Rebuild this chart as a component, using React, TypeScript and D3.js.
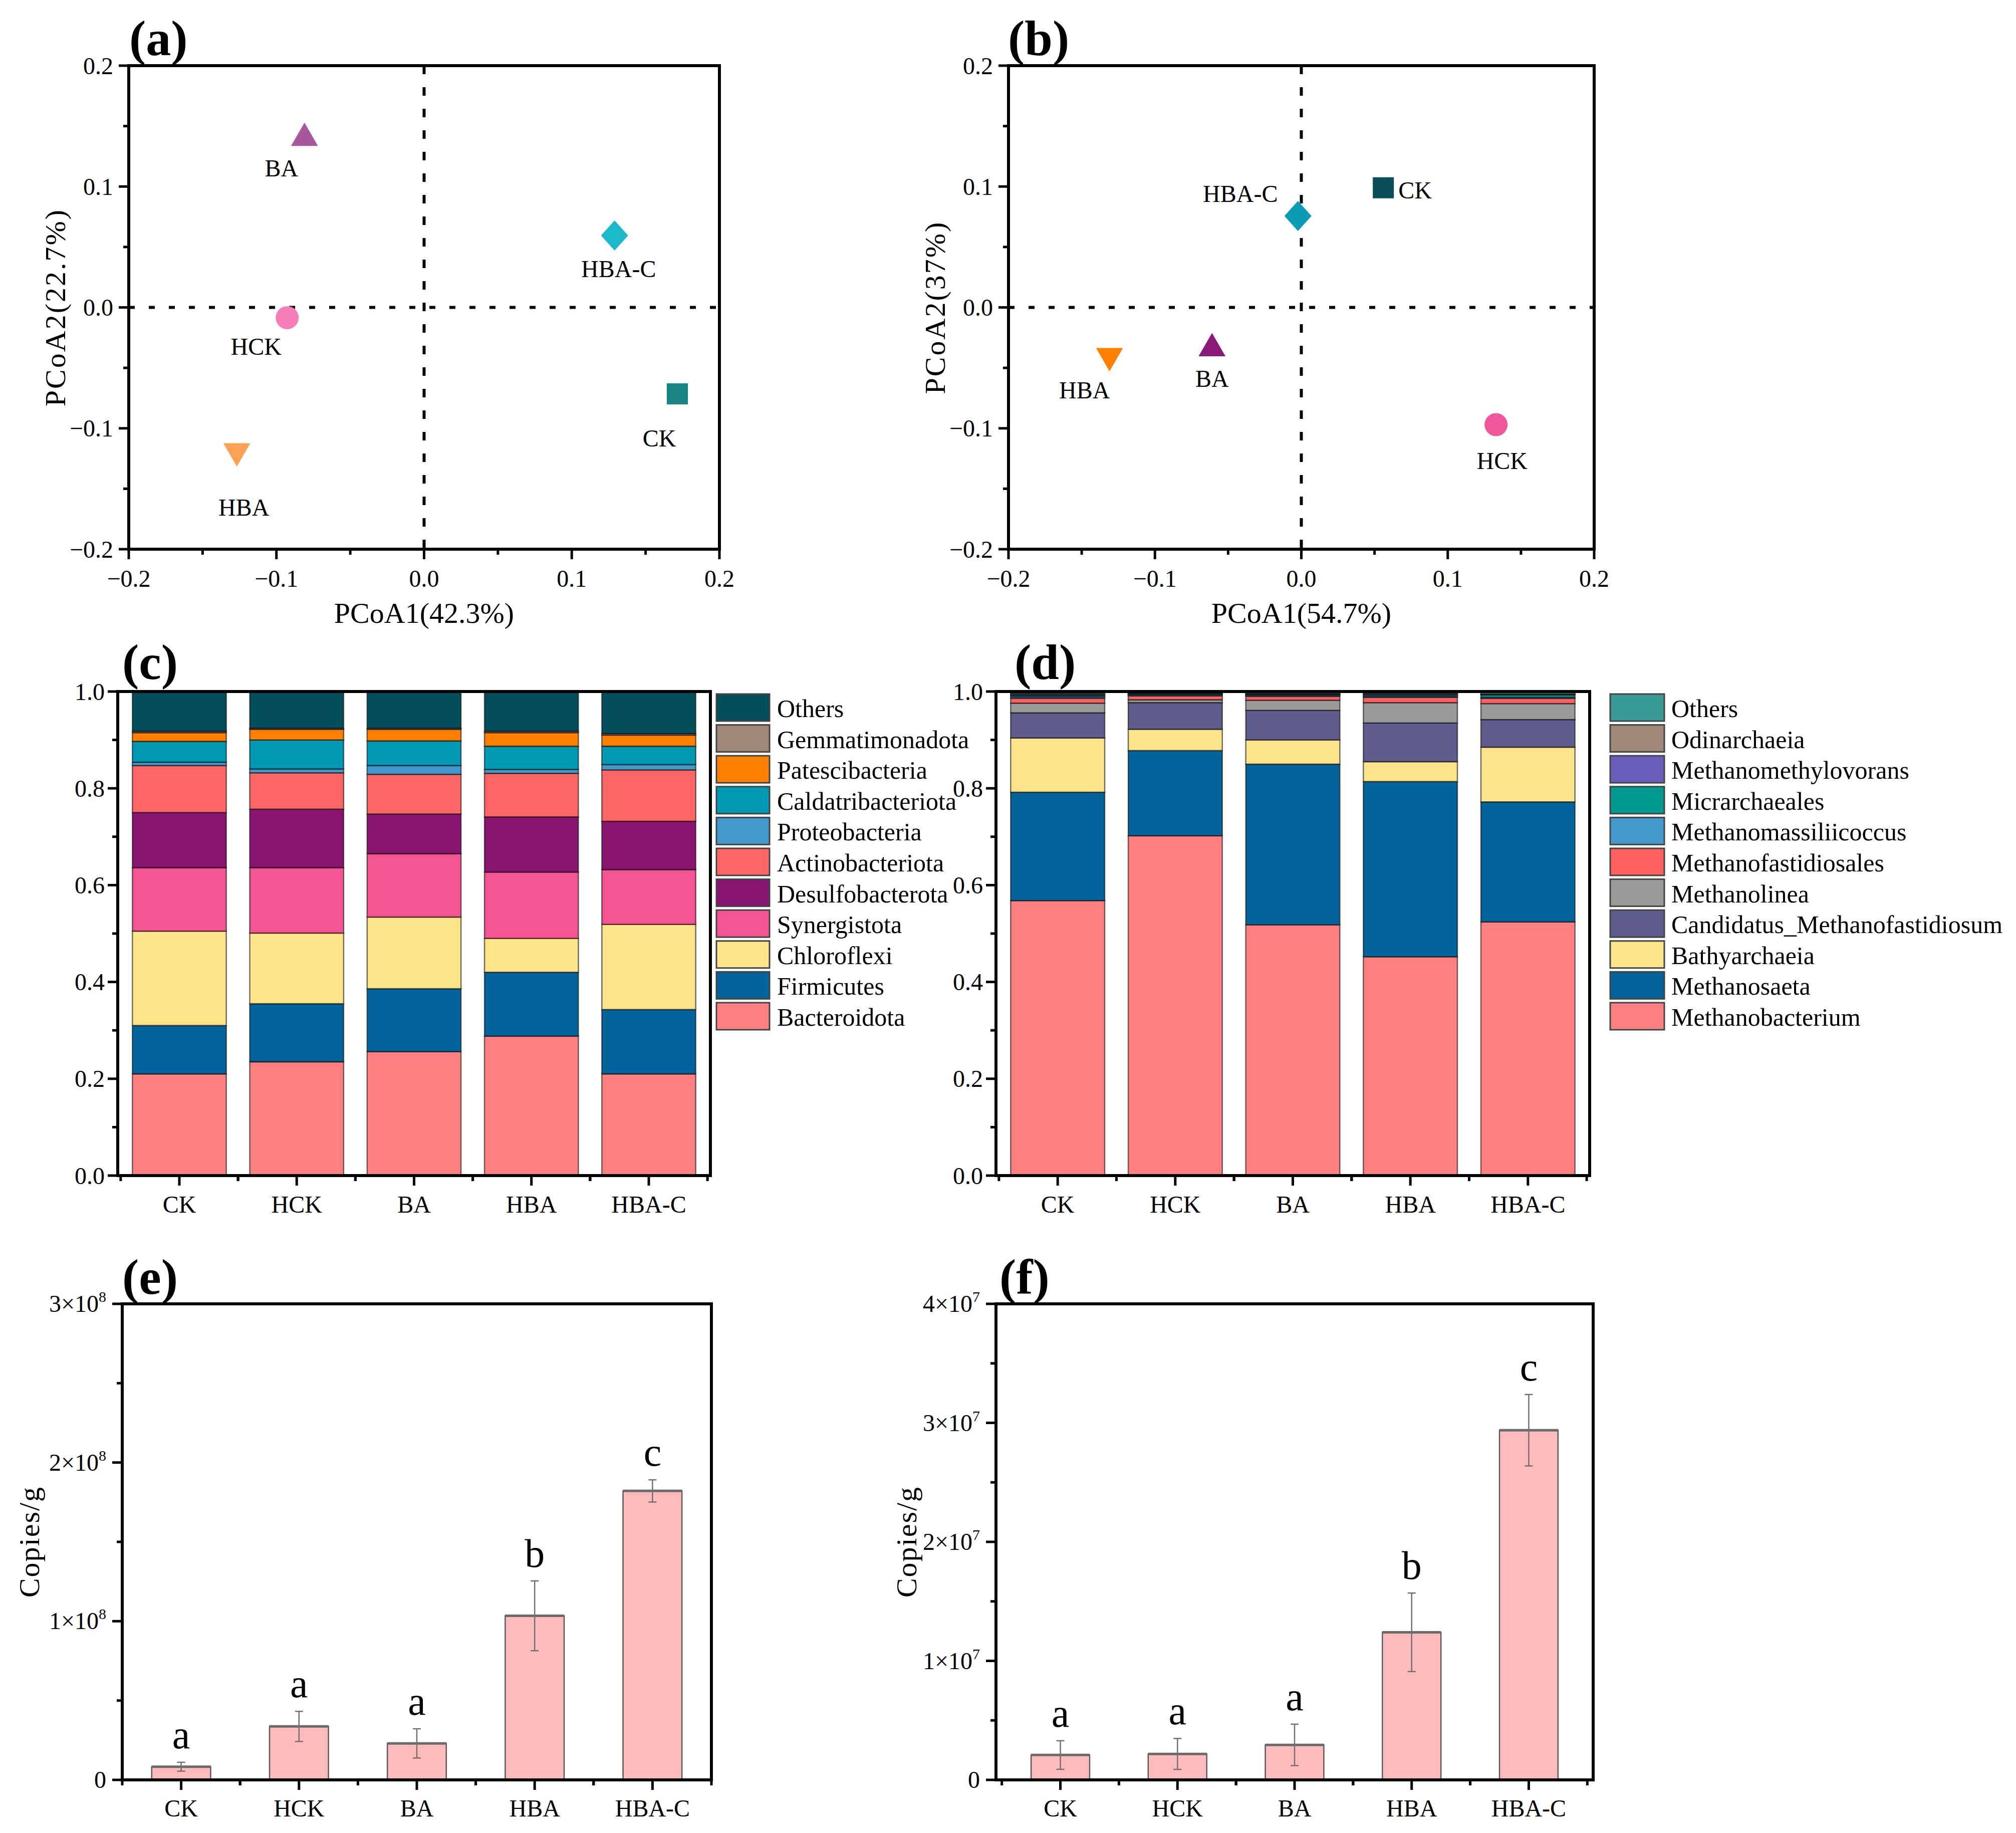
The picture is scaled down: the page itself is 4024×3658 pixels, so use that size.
import React from "react";
import * as d3 from "d3";

const W = 4024;
const H = 3658;
const SERIF = "'Liberation Serif', 'Times New Roman', Times, serif";

// ---------- shared ----------
const groups = ["CK", "HCK", "BA", "HBA", "HBA-C"];
const markerShapes = ["square", "circle", "triangle", "triangleDown", "diamond"];

// ---------- (a) PCoA bacteria ----------
const pcoaA_x = [0.1715, -0.0927, -0.081, -0.1268, 0.129];
const pcoaA_y = [-0.0715, -0.0085, 0.14, -0.1188, 0.0595];
const pcoaA_colors = ["#1A8585", "#F77DB7", "#A8569E", "#FBA154", "#1AB8C8"];

// ---------- (b) PCoA archaea ----------
const pcoaB_x = [0.056, 0.133, -0.061, -0.131, -0.0023];
const pcoaB_y = [0.099, -0.097, -0.034, -0.04, 0.0756];
const pcoaB_colors = ["#0A4E57", "#F0569A", "#8A1A78", "#FF8000", "#0A9CB5"];

// ---------- (c) bacterial phyla ----------
const phyla = [
  "Bacteroidota", "Firmicutes", "Chloroflexi", "Synergistota", "Desulfobacterota",
  "Actinobacteriota", "Proteobacteria", "Caldatribacteriota", "Patescibacteria",
  "Gemmatimonadota", "Others",
];
const bacteroidota = [0.21, 0.235, 0.256, 0.288, 0.21];
const firmicutes = [0.1, 0.12, 0.13, 0.132, 0.133];
const chloroflexi = [0.195, 0.146, 0.148, 0.07, 0.176];
const synergistota = [0.131, 0.135, 0.131, 0.137, 0.113];
const desulfobacterota = [0.114, 0.121, 0.082, 0.114, 0.1];
const actinobacteriota = [0.097, 0.075, 0.082, 0.09, 0.106];
const proteobacteria = [0.007, 0.008, 0.018, 0.008, 0.011];
const caldatribacteriota = [0.043, 0.06, 0.051, 0.048, 0.038];
const patescibacteria = [0.018, 0.022, 0.024, 0.028, 0.023];
const gemmatimonadota = [0.003, 0.002, 0.002, 0.003, 0.003];
const othersBac = [0.082, 0.076, 0.076, 0.082, 0.087];
const phylaValues = [
  bacteroidota, firmicutes, chloroflexi, synergistota, desulfobacterota,
  actinobacteriota, proteobacteria, caldatribacteriota, patescibacteria,
  gemmatimonadota, othersBac,
];
const phylaColors = [
  "#FF8080", "#02649A", "#FDE38A", "#F45493", "#881570",
  "#FF6666", "#4499CC", "#0099B4", "#FF8000", "#A08878", "#024F5B",
];

// ---------- (d) archaeal genera ----------
const genera = [
  "Methanobacterium", "Methanosaeta", "Bathyarchaeia", "Candidatus_Methanofastidiosum",
  "Methanolinea", "Methanofastidiosales", "Methanomassiliicoccus", "Micrarchaeales",
  "Methanomethylovorans", "Odinarchaeia", "Others",
];
const methanobacterium = [0.568, 0.702, 0.518, 0.452, 0.524];
const methanosaeta = [0.224, 0.176, 0.332, 0.362, 0.248];
const bathyarchaeia = [0.112, 0.044, 0.05, 0.041, 0.113];
const candidatusMf = [0.052, 0.055, 0.061, 0.08, 0.057];
const methanolinea = [0.02, 0.006, 0.021, 0.042, 0.033];
const methanofastidiosales = [0.01, 0.008, 0.008, 0.011, 0.011];
const methanomassiliicoccus = [0.003, 0.002, 0.002, 0.002, 0.002];
const micrarchaeales = [0.003, 0.002, 0.002, 0.003, 0.005];
const methanomethylovorans = [0.002, 0.001, 0.001, 0.002, 0.001];
const odinarchaeia = [0.002, 0.001, 0.001, 0.002, 0.001];
const othersArc = [0.004, 0.003, 0.004, 0.003, 0.005];
const generaValues = [
  methanobacterium, methanosaeta, bathyarchaeia, candidatusMf, methanolinea,
  methanofastidiosales, methanomassiliicoccus, micrarchaeales, methanomethylovorans,
  odinarchaeia, othersArc,
];
const generaColors = [
  "#FF8080", "#02649A", "#FDE38A", "#5F5D8E", "#9A9A9A",
  "#FF6060", "#4499CC", "#009990", "#6A5FBC", "#A08878", "#3A9A96",
];

// ---------- (e) bacterial 16S copies ----------
const bacCopies = [8.3e6, 3.37e7, 2.3e7, 1.034e8, 1.821e8];
const bacSd = [2.8e6, 9.5e6, 9.2e6, 2.2e7, 7e6];
const bacLetters = ["a", "a", "a", "b", "c"];

// ---------- (f) archaeal copies ----------
const arcCopies = [2.09e6, 2.18e6, 2.94e6, 1.24e7, 2.938e7];
const arcSd = [1.2e6, 1.3e6, 1.74e6, 3.3e6, 3.0e6];
const arcLetters = ["a", "a", "a", "b", "c"];

// ---------- helpers ----------
function markerPath(shape: string): string {
  if (shape === "square") return d3.symbol(d3.symbolSquare, 1764)() as string;
  if (shape === "circle") return d3.symbol(d3.symbolCircle, 1660)() as string;
  if (shape === "triangle" || shape === "triangleDown")
    return d3.symbol(d3.symbolTriangle, 1250)() as string;
  const p = d3.path();
  p.moveTo(0, -30);
  p.lineTo(27, 0);
  p.lineTo(0, 30);
  p.lineTo(-27, 0);
  p.closePath();
  return p.toString();
}

const AX = 6; // frame stroke
const TICK_MAJ = 20;
const TICK_MIN = 11;
const TICK_FS = 48;
const TITLE_FS = 58;

function PanelTag({ x, y, t }: { x: number; y: number; t: string }) {
  return (
    <text x={x} y={y} fontSize={100} fontWeight="bold" fontFamily={SERIF}>
      {t}
    </text>
  );
}

type PCoAProps = {
  fx0: number; fx1: number; fy0: number; fy1: number;
  xs: number[]; ys: number[]; colors: string[];
  ldx: number[]; ldy: number[]; lanchor: string[];
  xTitle: string; yTitle: string; yTitleX: number;
  tag: string; tagX: number;
};

function PCoAPanel(p: PCoAProps) {
  const x = d3.scaleLinear().domain([-0.2, 0.2]).range([p.fx0, p.fx1]);
  const y = d3.scaleLinear().domain([-0.2, 0.2]).range([p.fy1, p.fy0]);
  const major = x.ticks(4);
  const minor = x.ticks(8).filter((v) => !major.some((m) => Math.abs(m - v) < 1e-9));
  const fmt = d3.format(".1f");
  const cy = (p.fy0 + p.fy1) / 2;
  const cx = (p.fx0 + p.fx1) / 2;
  return (
    <g fontFamily={SERIF}>
      {/* dotted zero lines */}
      <line x1={p.fx0} x2={p.fx1} y1={y(0)} y2={y(0)} stroke="#000" strokeWidth={6} strokeDasharray="12 28" />
      <line x1={x(0)} x2={x(0)} y1={p.fy0} y2={p.fy1} stroke="#000" strokeWidth={6} strokeDasharray="17 26" />
      {/* markers */}
      {groups.map((g, i) => (
        <path
          key={g}
          d={markerPath(markerShapes[i])}
          transform={`translate(${x(p.xs[i])},${y(p.ys[i])})${markerShapes[i] === "triangleDown" ? " rotate(180)" : ""}`}
          fill={p.colors[i]}
        />
      ))}
      {groups.map((g, i) => (
        <text
          key={"l" + g}
          x={x(p.xs[i]) + p.ldx[i]}
          y={y(p.ys[i]) + p.ldy[i]}
          fontSize={48}
          textAnchor={p.lanchor[i]}
          dominantBaseline="central"
        >
          {g}
        </text>
      ))}
      {/* ticks */}
      {major.map((v) => (
        <g key={"mx" + v}>
          <line x1={x(v)} x2={x(v)} y1={p.fy1} y2={p.fy1 + TICK_MAJ} stroke="#000" strokeWidth={5} />
          <text x={x(v)} y={p.fy1 + 58} fontSize={TICK_FS} textAnchor="middle" dominantBaseline="central">
            {fmt(v)}
          </text>
          <line x1={p.fx0} x2={p.fx0 - TICK_MAJ} y1={y(v)} y2={y(v)} stroke="#000" strokeWidth={5} />
          <text x={p.fx0 - 31} y={y(v)} fontSize={TICK_FS} textAnchor="end" dominantBaseline="central">
            {fmt(v)}
          </text>
        </g>
      ))}
      {minor.map((v) => (
        <g key={"mn" + v}>
          <line x1={x(v)} x2={x(v)} y1={p.fy1} y2={p.fy1 + TICK_MIN} stroke="#000" strokeWidth={5} />
          <line x1={p.fx0} x2={p.fx0 - TICK_MIN} y1={y(v)} y2={y(v)} stroke="#000" strokeWidth={5} />
        </g>
      ))}
      <rect x={p.fx0} y={p.fy0} width={p.fx1 - p.fx0} height={p.fy1 - p.fy0} fill="none" stroke="#000" strokeWidth={AX} />
      <text x={cx} y={p.fy1 + 127} fontSize={TITLE_FS} textAnchor="middle" dominantBaseline="central">
        {p.xTitle}
      </text>
      <text
        transform={`translate(${p.yTitleX},${cy}) rotate(-90)`}
        fontSize={TITLE_FS}
        textAnchor="middle"
        dominantBaseline="central"
        letterSpacing={3}
      >
        {p.yTitle}
      </text>
      <PanelTag x={p.tagX} y={p.fy0 - 21} t={p.tag} />
    </g>
  );
}

type StackProps = {
  fx0: number; fx1: number; fy0: number; fy1: number;
  names: string[]; values: number[][]; colors: string[];
  legX: number; legW: number; legTextX: number;
  tag: string; tagX: number;
};

function StackPanel(p: StackProps) {
  const rows = groups.map((g, i) => {
    const r: Record<string, any> = { group: g };
    p.names.forEach((n, k) => (r[n] = p.values[k][i]));
    return r;
  });
  const series = d3.stack<Record<string, any>>().keys(p.names)(rows);
  const x = d3.scaleBand().domain(groups).range([p.fx0, p.fx1]).paddingInner(0.2).paddingOuter(0.125);
  const y = d3.scaleLinear().domain([0, 1]).range([p.fy1, p.fy0]);
  const major = y.ticks(5);
  const minor = y.ticks(10).filter((v) => !major.some((m) => Math.abs(m - v) < 1e-9));
  const fmt = d3.format(".1f");
  const step = x.step();
  const legendNames = [...p.names].reverse();
  const legendColors = [...p.colors].reverse();
  const rowH = 61.6;
  return (
    <g fontFamily={SERIF}>
      {series.map((s, k) => (
        <g key={p.names[k]} fill={p.colors[k]}>
          {s.map((d, i) => (
            <rect
              key={i}
              x={x(groups[i])}
              y={y(d[1])}
              width={x.bandwidth()}
              height={Math.max(0, y(d[0]) - y(d[1]))}
              stroke="rgba(0,0,0,0.55)"
              strokeWidth={2.5}
            />
          ))}
        </g>
      ))}
      {groups.map((g) => {
        const c = (x(g) as number) + x.bandwidth() / 2;
        return (
          <g key={"t" + g}>
            <line x1={c} x2={c} y1={p.fy1} y2={p.fy1 + TICK_MAJ} stroke="#000" strokeWidth={5} />
            <line x1={c - step / 2} x2={c - step / 2} y1={p.fy1} y2={p.fy1 + TICK_MIN} stroke="#000" strokeWidth={5} />
            <line x1={c + step / 2} x2={c + step / 2} y1={p.fy1} y2={p.fy1 + TICK_MIN} stroke="#000" strokeWidth={5} />
            <text x={c} y={p.fy1 + 57} fontSize={TICK_FS} textAnchor="middle" dominantBaseline="central">
              {g}
            </text>
          </g>
        );
      })}
      {major.map((v) => (
        <g key={"my" + v}>
          <line x1={p.fx0} x2={p.fx0 - TICK_MAJ} y1={y(v)} y2={y(v)} stroke="#000" strokeWidth={5} />
          <text x={p.fx0 - 26} y={y(v)} fontSize={TICK_FS} textAnchor="end" dominantBaseline="central">
            {fmt(v)}
          </text>
        </g>
      ))}
      {minor.map((v) => (
        <line key={"ny" + v} x1={p.fx0} x2={p.fx0 - TICK_MIN} y1={y(v)} y2={y(v)} stroke="#000" strokeWidth={5} />
      ))}
      <rect x={p.fx0} y={p.fy0} width={p.fx1 - p.fx0} height={p.fy1 - p.fy0} fill="none" stroke="#000" strokeWidth={AX} />
      {legendNames.map((n, i) => (
        <g key={"lg" + n}>
          <rect
            x={p.legX}
            y={p.fy0 + 5 + i * rowH}
            width={p.legW}
            height={54}
            fill={legendColors[i]}
            stroke="#444"
            strokeWidth={3}
          />
          <text x={p.legTextX} y={p.fy0 + 5 + i * rowH + 29} fontSize={50} dominantBaseline="central">
            {n}
          </text>
        </g>
      ))}
      <PanelTag x={p.tagX} y={p.fy0 - 25} t={p.tag} />
    </g>
  );
}

type CopiesProps = {
  fx0: number; fx1: number; fy0: number; fy1: number;
  means: number[]; sds: number[]; letters: string[];
  nMajor: number; exp: number; po: number;
  yTitleX: number; tag: string; tagX: number;
};

function CopiesPanel(p: CopiesProps) {
  const unit = Math.pow(10, p.exp);
  const x = d3.scaleBand().domain(groups).range([p.fx0, p.fx1]).paddingInner(0.5).paddingOuter(p.po);
  const y = d3.scaleLinear().domain([0, p.nMajor * unit]).range([p.fy1, p.fy0]);
  const major = d3.range(0, p.nMajor + 1).map((k) => k * unit);
  const minor = d3.range(0, p.nMajor).map((k) => (k + 0.5) * unit);
  const step = x.step();
  const cy = (p.fy0 + p.fy1) / 2;
  return (
    <g fontFamily={SERIF}>
      {groups.map((g, i) => {
        const bx = x(g) as number;
        const c = bx + x.bandwidth() / 2;
        const top = y(p.means[i] + p.sds[i]);
        const bot = y(p.means[i] - p.sds[i]);
        return (
          <g key={g}>
            <rect
              x={bx}
              y={y(p.means[i])}
              width={x.bandwidth()}
              height={y(0) - y(p.means[i])}
              fill="#FFBBBB"
              stroke="#5a5a5a"
              strokeWidth={2.5}
            />
            <line x1={bx} x2={bx + x.bandwidth()} y1={y(p.means[i])} y2={y(p.means[i])} stroke="#6a6a6a" strokeWidth={5} />
            <line x1={c} x2={c} y1={top} y2={bot} stroke="#707070" strokeWidth={2.5} />
            <line x1={c - 8} x2={c + 8} y1={top} y2={top} stroke="#707070" strokeWidth={2.5} />
            <line x1={c - 8} x2={c + 8} y1={bot} y2={bot} stroke="#707070" strokeWidth={2.5} />
            <text x={c} y={top - 28} fontSize={80} textAnchor="middle">
              {p.letters[i]}
            </text>
            <line x1={c} x2={c} y1={p.fy1} y2={p.fy1 + TICK_MAJ} stroke="#000" strokeWidth={5} />
            <line x1={c - step / 2} x2={c - step / 2} y1={p.fy1} y2={p.fy1 + TICK_MIN} stroke="#000" strokeWidth={5} />
            <line x1={c + step / 2} x2={c + step / 2} y1={p.fy1} y2={p.fy1 + TICK_MIN} stroke="#000" strokeWidth={5} />
            <text x={c} y={p.fy1 + 56} fontSize={TICK_FS} textAnchor="middle" dominantBaseline="central">
              {g}
            </text>
          </g>
        );
      })}
      {major.map((v) => (
        <g key={"my" + v}>
          <line x1={p.fx0} x2={p.fx0 - TICK_MAJ} y1={y(v)} y2={y(v)} stroke="#000" strokeWidth={5} />
          <text x={p.fx0 - 32} y={y(v) + 16} fontSize={TICK_FS} textAnchor="end">
            {v === 0 ? (
              "0"
            ) : (
              <>
                {`${Math.round(v / unit)}×10`}
                <tspan dy={-20} fontSize={30}>
                  {p.exp}
                </tspan>
              </>
            )}
          </text>
        </g>
      ))}
      {minor.map((v) => (
        <line key={"ny" + v} x1={p.fx0} x2={p.fx0 - TICK_MIN} y1={y(v)} y2={y(v)} stroke="#000" strokeWidth={5} />
      ))}
      <rect x={p.fx0} y={p.fy0} width={p.fx1 - p.fx0} height={p.fy1 - p.fy0} fill="none" stroke="#000" strokeWidth={AX} />
      <text
        transform={`translate(${p.yTitleX},${cy}) rotate(-90)`}
        fontSize={TITLE_FS}
        textAnchor="middle"
        dominantBaseline="central"
        letterSpacing={2}
      >
        Copies/g
      </text>
      <PanelTag x={p.tagX} y={p.fy0 - 20} t={p.tag} />
    </g>
  );
}

export default function App() {
  return (
    <svg
      width={W}
      height={H}
      viewBox={`0 0 ${W} ${H}`}
      style={{ position: "absolute", left: 0, top: 0, background: "#fff" }}
    >
      <rect width={W} height={H} fill="#fff" />
      <PCoAPanel
        fx0={257} fx1={1436} fy0={131} fy1={1096}
        xs={pcoaA_x} ys={pcoaA_y} colors={pcoaA_colors}
        ldx={[-36, -62, -46, 14, 8]} ldy={[89, 57, 60, 112, 67]}
        lanchor={["middle", "middle", "middle", "middle", "middle"]}
        xTitle="PCoA1(42.3%)" yTitle="PCoA2(22.7%)" yTitleX={110}
        tag="(a)" tagX={258}
      />
      <PCoAPanel
        fx0={2013} fx1={3182} fy0={131} fy1={1096}
        xs={pcoaB_x} ys={pcoaB_y} colors={pcoaB_colors}
        ldx={[30, 12, 0, -50, -115]} ldy={[5, 72, 60, 68, -45]}
        lanchor={["start", "middle", "middle", "middle", "middle"]}
        xTitle="PCoA1(54.7%)" yTitle="PCoA2(37%)" yTitleX={1866}
        tag="(b)" tagX={2012}
      />
      <StackPanel
        fx0={235} fx1={1418} fy0={1380} fy1={2346}
        names={phyla} values={phylaValues} colors={phylaColors}
        legX={1430} legW={106} legTextX={1551}
        tag="(c)" tagX={244}
      />
      <StackPanel
        fx0={1988} fx1={3173} fy0={1380} fy1={2346}
        names={genera} values={generaValues} colors={generaColors}
        legX={3214} legW={108} legTextX={3336}
        tag="(d)" tagX={2025}
      />
      <CopiesPanel
        fx0={244} fx1={1420} fy0={2602} fy1={3552}
        means={bacCopies} sds={bacSd} letters={bacLetters}
        nMajor={3} exp={8} po={0.25}
        yTitleX={58} tag="(e)" tagX={244}
      />
      <CopiesPanel
        fx0={1988} fx1={3180} fy0={2602} fy1={3552}
        means={arcCopies} sds={arcSd} letters={arcLetters}
        nMajor={4} exp={7} po={0.3}
        yTitleX={1809} tag="(f)" tagX={1995}
      />
    </svg>
  );
}
